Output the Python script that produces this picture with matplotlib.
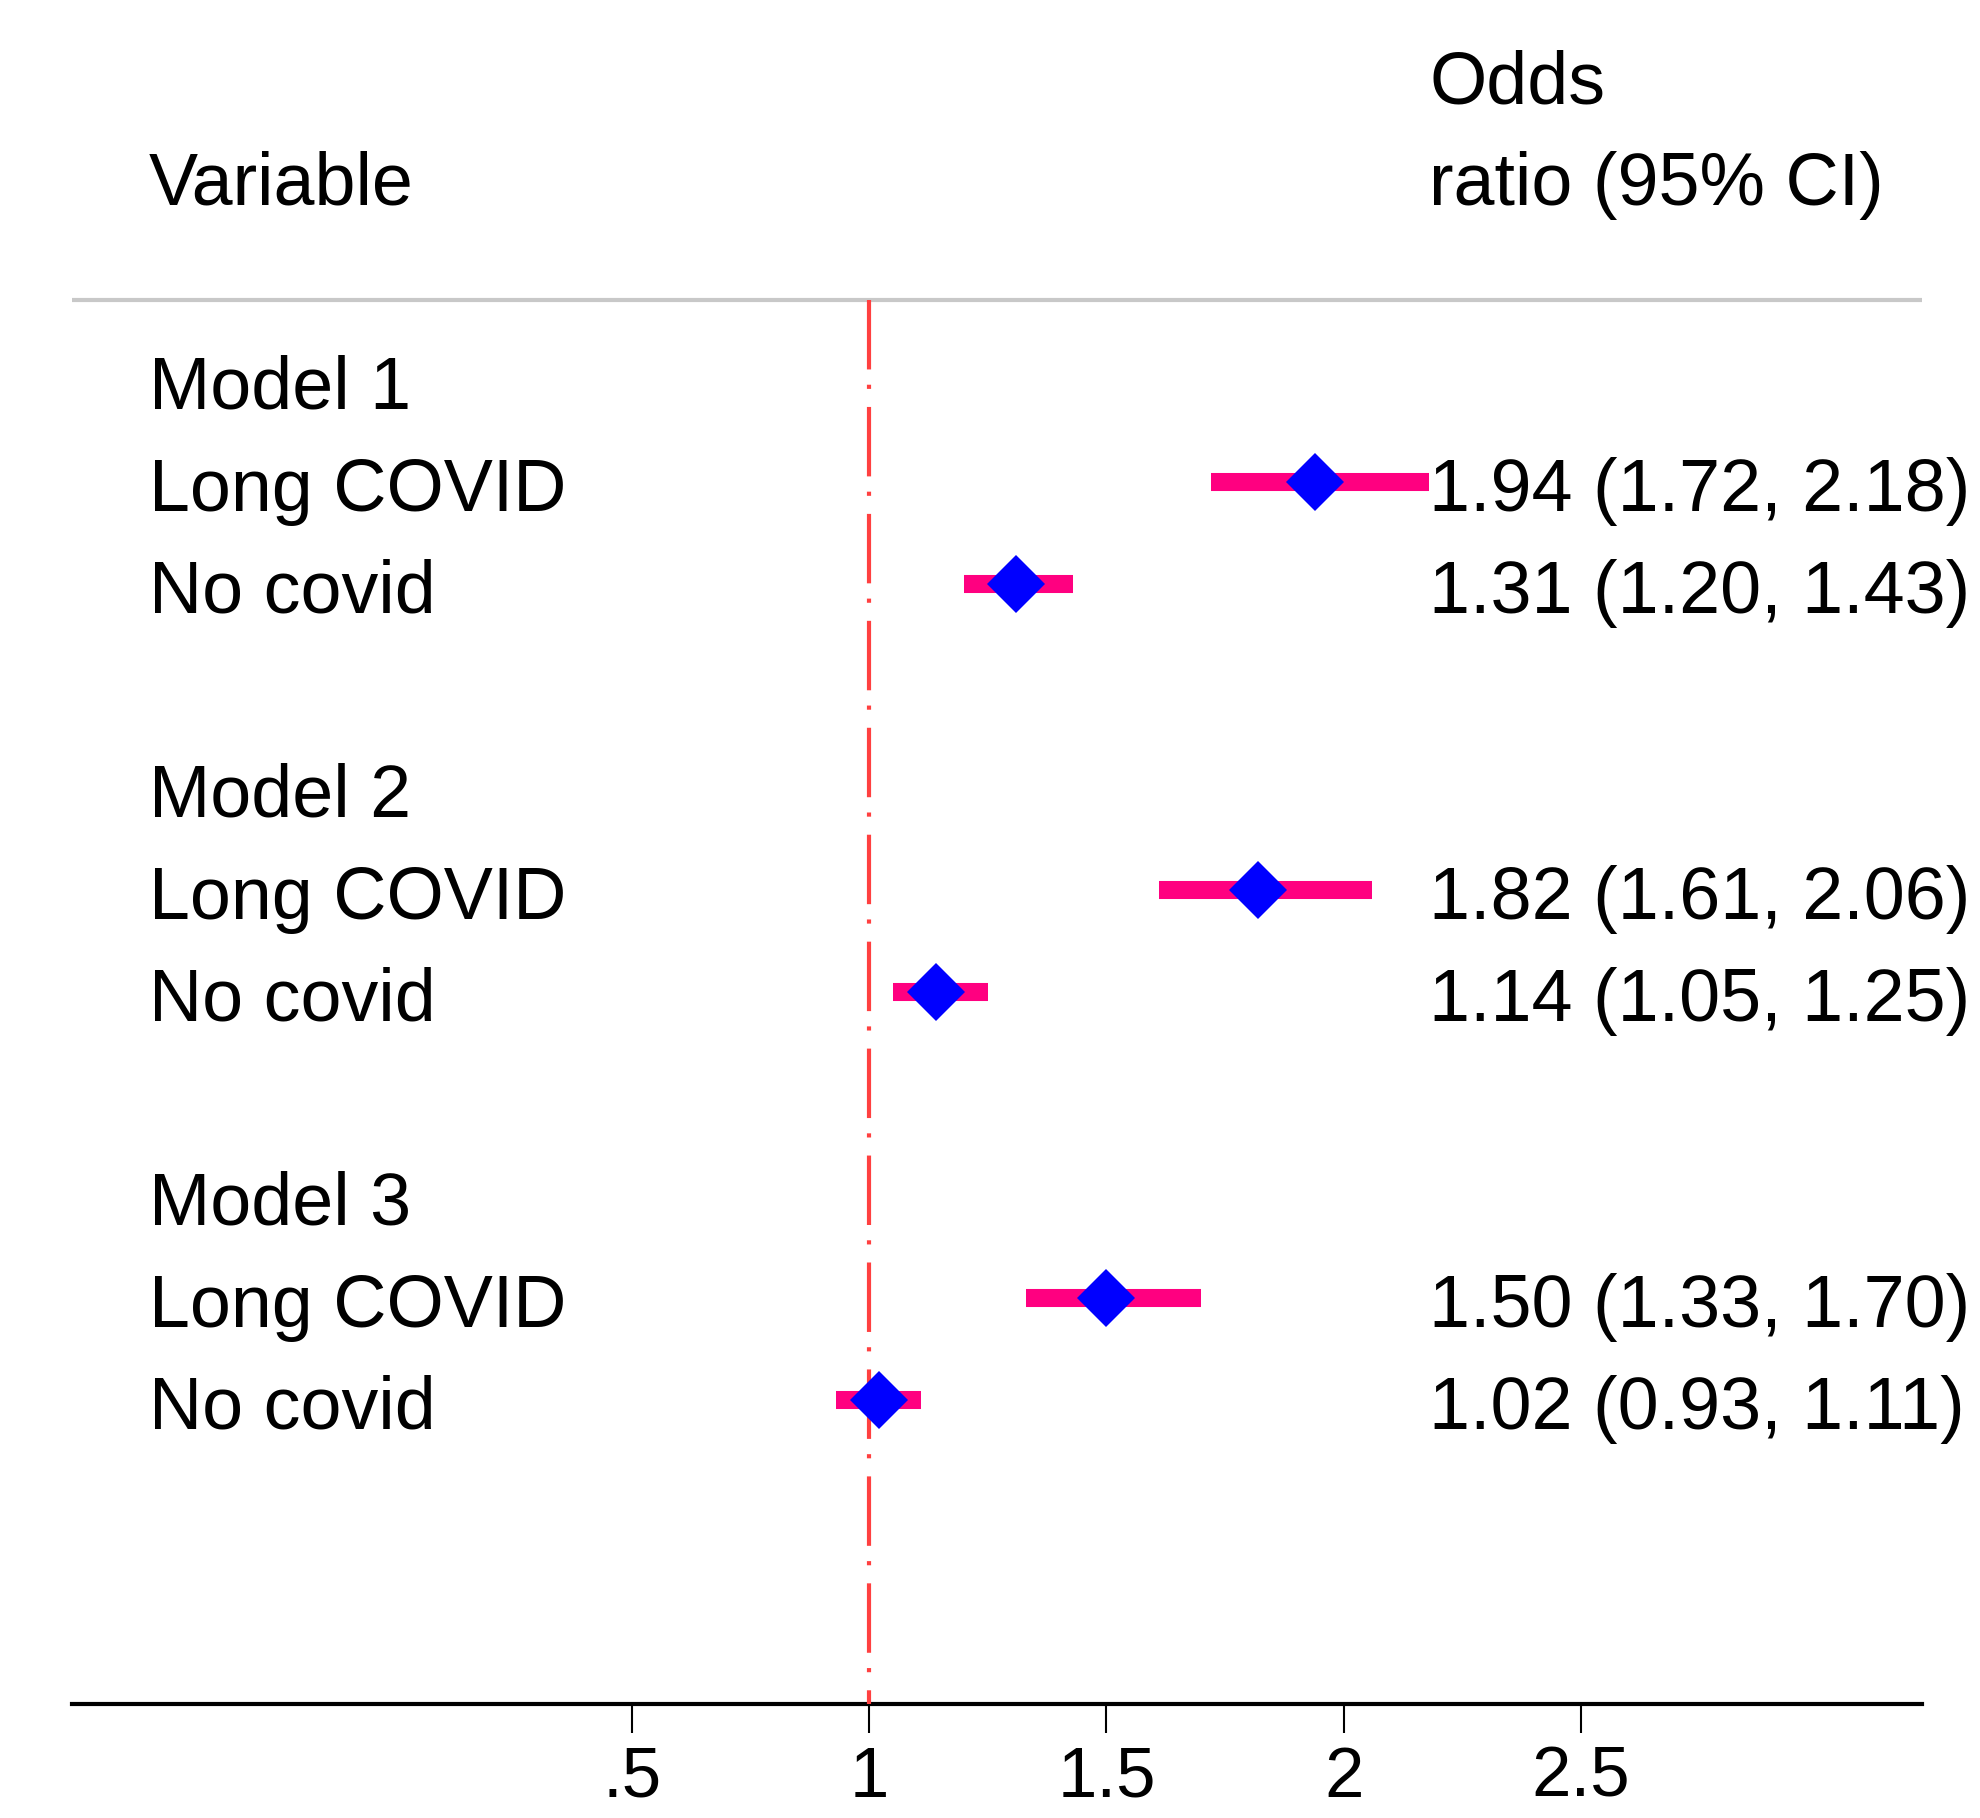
import matplotlib
matplotlib.use("Agg")
import matplotlib.pyplot as plt

plt.rcParams['font.family'] = ['Liberation Sans', 'DejaVu Sans']
plt.rcParams['lines.scale_dashes'] = False

# ---- data ----
row_labels = ["Model 1", "Long COVID", "No covid",
              "Model 2", "Long COVID", "No covid",
              "Model 3", "Long COVID", "No covid"]
row_pos = [1, 2, 3, 5, 6, 7, 9, 10, 11]
est_rows = [2, 3, 6, 7, 10, 11]
or_est = [1.94, 1.31, 1.82, 1.14, 1.50, 1.02]
ci_low = [1.72, 1.20, 1.61, 1.05, 1.33, 0.93]
ci_high = [2.18, 1.43, 2.06, 1.25, 1.70, 1.11]
xticks = [0.5, 1, 1.5, 2, 2.5]
xtick_labels = [".5", "1", "1.5", "2", "2.5"]
header_left = "Variable"
header_right = ["Odds", "ratio (95% CI)"]

W, H = 1980, 1818
fig = plt.figure(figsize=(W / 100, H / 100), dpi=100)
ax = fig.add_axes([72 / W, (H - 1704) / H, (1922 - 72) / W, 1704 / H])
ax.set_xlim(-0.679, 3.218)
ax.set_ylim(13.98, -2.725)

for s in ['top', 'left', 'right']:
    ax.spines[s].set_visible(False)
ax.spines['bottom'].set_linewidth(3)
ax.spines['bottom'].set_color('black')
ax.set_yticks([])
ax.set_xticks(xticks)
ax.set_xticklabels(xtick_labels)
ax.tick_params(axis='x', direction='out', length=21, width=1.5,
               labelsize=51, pad=9, colors='black')

fs = 53
txt_x = -0.517
val_x = 2.18

# header
ax.axhline(0.216, color='#c8c8c8', lw=3, zorder=1)
ax.text(txt_x, -0.72, header_left, fontsize=fs, va='baseline', ha='left')
ax.text(val_x, -1.71, header_right[0], fontsize=fs, va='baseline', ha='left')
ax.text(val_x, -0.72, header_right[1], fontsize=fs, va='baseline', ha='left')

# reference line
ax.plot([1, 1], [0.216, 13.98], color='#ff4040', lw=3, zorder=3,
        solid_capstyle='butt', dash_capstyle='butt',
        linestyle=(0, (50, 11, 3, 13)))

for lab, r in zip(row_labels, row_pos):
    ax.text(txt_x, r + 0.28, lab, fontsize=fs, va='baseline', ha='left')

for r, e, lo, hi in zip(est_rows, or_est, ci_low, ci_high):
    ax.plot([lo, hi], [r, r], color='#ff0080', lw=13, solid_capstyle='butt', zorder=2)
    ax.plot([e], [r], marker='D', color='#0000ff', markersize=30,
            markeredgewidth=0, zorder=4)
    ax.text(val_x, r + 0.28, f"{e:.2f} ({lo:.2f}, {hi:.2f})", fontsize=fs,
            va='baseline', ha='left')

fig.savefig("out.png", dpi=100, facecolor='white')
